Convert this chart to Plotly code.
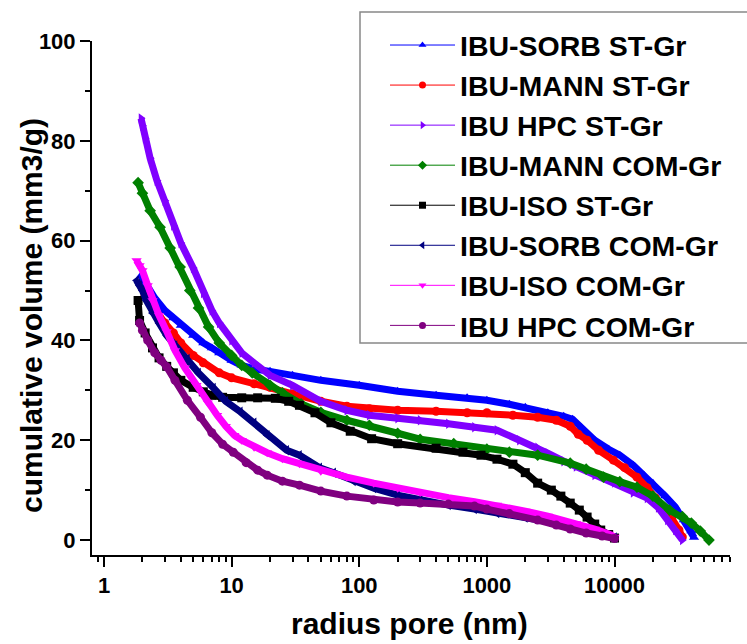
import plotly.graph_objects as go

# ---------------- data ----------------
names = ["IBU-SORB ST-Gr", "IBU-MANN ST-Gr", "IBU HPC ST-Gr", "IBU-MANN COM-Gr",
         "IBU-ISO ST-Gr", "IBU-SORB COM-Gr", "IBU-ISO COM-Gr", "IBU HPC COM-Gr"]
colors = ["#0000FF", "#FF0000", "#8000FF", "#008000",
          "#000000", "#000080", "#FF00FF", "#800080"]
symbols = ["triangle-up", "circle", "triangle-right", "diamond",
           "square", "triangle-left", "triangle-down", "circle"]

sorb_st_r = [1.95, 2.2, 2.5, 3, 3.5, 4, 5, 6, 7, 8, 10, 12, 15, 20, 30, 50, 100, 200, 400, 700,
             1000, 1500, 2000, 3000, 4000, 4700, 5500, 7000, 9000, 11000, 14000, 17000, 20000,
             25000, 30000, 35000, 40000, 42000]
sorb_st_v = [53, 50.5, 48.5, 46, 44.5, 43, 41, 39.5, 38.5, 37.5, 36, 35, 34.3, 33.8, 33, 32, 31,
             29.8, 29, 28.5, 28, 27.2, 26.6, 25.5, 24.8, 24.2, 22.5, 20, 18.2, 17, 15, 13, 11.4,
             8.8, 6.6, 4, 1.8, 0.5]

mann_st_r = [2.1, 2.5, 3, 3.5, 4, 5, 6, 8, 10, 15, 20, 30, 50, 80, 120, 200, 400, 700, 1000,
             1600, 2500, 3500, 4500, 5200, 6100, 7500, 9800, 12000, 15000, 18000, 21000, 25000,
             28000, 32000, 34000]
mann_st_v = [49, 46, 43.5, 41.5, 39.5, 37, 35.5, 33.5, 32.5, 31.3, 30.6, 29.3, 27.8, 26.8, 26.3,
             26, 25.8, 25.5, 25.5, 25, 24.6, 24, 22.8, 21.2, 20, 18, 16, 14.5, 12.6, 10.5, 8.4,
             6, 4.4, 2, 0.6]

hpc_st_r = [1.95, 2.0, 2.1, 2.3, 2.6, 3, 3.5, 4, 5, 6, 7, 8, 10, 12, 15, 20, 30, 50, 80, 120,
            200, 300, 500, 800, 1200, 1800, 2500, 3000, 4000, 5000, 7000, 10000, 14000, 18000,
            22000, 26000, 30000, 34000]
hpc_st_v = [84.5, 83, 80.5, 76.5, 72, 68, 63, 59.5, 54.5, 49.5, 46, 43.5, 40, 37.5, 35.5, 33,
            31, 27.8, 26, 25, 24.4, 24, 23.3, 22.6, 22, 20, 18.5, 17.4, 15.8, 14.7, 13, 11.5,
            9.5, 8.4, 6.5, 4, 2, 0]

mann_com_r = [1.85, 2.0, 2.3, 2.75, 3.3, 3.95, 4.7, 5.5, 6.6, 8, 10, 12, 14.5, 20, 25, 35, 50,
              80, 120, 200, 300, 550, 1000, 1500, 2500, 4500, 6000, 8200, 11000, 15000, 20000,
              27000, 34000, 40000, 47000, 55000]
mann_com_v = [71.6, 69.5, 66, 62.7, 58.5, 54.7, 50, 46.5, 42.7, 39.5, 37, 35, 33.5, 31, 29.5,
              27.3, 25.6, 24, 23, 21.4, 20.2, 19.3, 18.2, 17.6, 17, 15.4, 14.2, 12.6, 11.7, 10.6,
              8.8, 6, 4.7, 3.4, 1.8, 0]

iso_st_r = [1.85, 1.9, 2.1, 2.4, 2.7, 3.1, 3.5, 4, 5, 6, 7, 8.5, 12, 16, 22, 28, 34, 45, 60, 85,
            125, 200, 400, 650, 900, 1200, 1600, 2000, 2500, 3200, 3800, 4500, 5300, 6100, 7000,
            7800, 9000, 10000]
iso_st_v = [48, 44, 41.5, 38.5, 36.5, 34.8, 33.5, 32, 30.6, 29.7, 29, 28.6, 28.5, 28.5, 28.4,
            27.8, 27, 25.5, 23.5, 21.8, 20.3, 19.3, 18.4, 17.6, 17, 16.2, 15.2, 13.5, 11.4, 10,
            8.8, 7.4, 6, 4.6, 3.2, 2, 1.1, 0.4]

sorb_com_r = [1.8, 1.9, 2.0, 2.15, 2.4, 2.7, 3.1, 3.6, 4.5, 5.5, 7.2, 9, 11.7, 15, 19, 27, 34,
              49, 63, 90, 130, 200, 300, 500, 800, 1200, 2000, 3000, 5000, 7000, 9000, 10000]
sorb_com_v = [52, 51, 50, 48, 45.5, 43.5, 41, 39, 36.3, 33.5, 30.5, 27.8, 25.7, 23.5, 21, 18,
              17, 14.5, 13.5, 11.8, 10.4, 9, 8, 7, 6.2, 5.4, 4.5, 3.7, 2.3, 1.4, 0.8, 0.5]

iso_com_r = [1.8, 1.9, 2.0, 2.2, 2.4, 2.7, 3.1, 3.6, 4.3, 5.3, 6.5, 7.7, 9, 10.5, 12, 15, 19, 25,
             34, 50, 80, 130, 200, 300, 500, 800, 1200, 2000, 3000, 5000, 7000, 9000, 10000]
iso_com_v = [56, 55, 54, 51, 48, 45, 41.8, 38, 34.5, 31, 27.5, 25, 22.8, 21, 20, 18.6, 17.5,
             16.3, 15.3, 13.8, 12.6, 11.4, 10.4, 9.5, 8.5, 7.7, 7, 5.8, 4.8, 3.3, 2.2, 1.2, 0.6]

hpc_com_r = [1.9, 2.0, 2.2, 2.5, 2.8, 3.1, 3.6, 4.5, 5.7, 7, 8.5, 10.3, 13, 16, 19, 25, 34, 50,
             80, 130, 200, 300, 500, 800, 1000, 1500, 2500, 3500, 4500, 6000, 8000, 10000]
hpc_com_v = [43.5, 42, 40, 37.5, 36, 34.7, 32, 28, 24.6, 21.5, 19.2, 17.6, 15.5, 14, 13, 11.8,
             11, 9.8, 8.8, 8, 7.6, 7.4, 7.2, 6.8, 6.2, 5.3, 4, 3, 2.2, 1.4, 0.8, 0.3]

xs = [sorb_st_r, mann_st_r, hpc_st_r, mann_com_r, iso_st_r, sorb_com_r, iso_com_r, hpc_com_r]
ys = [sorb_st_v, mann_st_v, hpc_st_v, mann_com_v, iso_st_v, sorb_com_v, iso_com_v, hpc_com_v]

x_tickvals = [1, 10, 100, 1000, 10000]
x_ticktext = ["1", "10", "100", "1000", "10000"]
y_tickvals = [0, 20, 40, 60, 80, 100]

FONT = "Liberation Sans, Arial, sans-serif"

fig = go.Figure()

# data curves (dense marker bands)
for n, c, s, x, y in zip(names, colors, symbols, xs, ys):
    fig.add_trace(go.Scatter(
        x=x, y=y, mode="lines+markers", name=n, showlegend=False,
        line=dict(color=c, width=7),
        marker=dict(symbol=s, size=9, color=c, line=dict(width=0)),
    ))

# legend entries (thin line with small marker)
for n, c, s in zip(names, colors, symbols):
    fig.add_trace(go.Scatter(
        x=[None], y=[None], mode="lines+markers", name=n,
        line=dict(color=c, width=1),
        marker=dict(symbol=s, size=7, color=c, line=dict(width=0)),
    ))

W, H = 747, 644
L, R, T, B = 92, 17, 41, 89
pw, ph = W - L - R, H - T - B

def px2paper_x(px):
    return (px - L) / pw

def px2paper_y(py):
    return (H - B - py) / ph

fig.update_layout(
    width=W, height=H,
    margin=dict(l=L, r=R, t=T, b=B, pad=0),
    paper_bgcolor="white", plot_bgcolor="white",
    font=dict(family=FONT, color="black"),
    showlegend=True,
    legend=dict(
        x=px2paper_x(385), y=px2paper_y(351), xanchor="left", yanchor="bottom",
        bgcolor="rgba(0,0,0,0)", borderwidth=0,
        font=dict(family=FONT, size=28.5, color="black", weight="bold"),
        itemwidth=65, tracegroupgap=0,
    ),
    xaxis=dict(
        type="log", range=[-0.094, 4.905],
        tickvals=x_tickvals, ticktext=x_ticktext,
        ticks="outside", ticklen=10, tickwidth=2, tickcolor="black",
        showline=True, linecolor="black", linewidth=2,
        showgrid=False, zeroline=False,
        tickfont=dict(family=FONT, size=22, color="black", weight="bold"),
        minor=dict(ticks="outside", ticklen=5, tickwidth=1.5, tickcolor="black",
                   dtick="D1", showgrid=False),
    ),
    yaxis=dict(
        range=[-3, 100],
        tickvals=y_tickvals,
        ticks="outside", ticklen=10, tickwidth=2, tickcolor="black",
        showline=True, linecolor="black", linewidth=2,
        showgrid=False, zeroline=False,
        tickfont=dict(family=FONT, size=22, color="black", weight="bold"),
        minor=dict(ticks="outside", ticklen=5, tickwidth=1.5, tickcolor="black",
                   dtick=10, showgrid=False),
    ),
    shapes=[dict(
        type="rect", xref="paper", yref="paper",
        x0=px2paper_x(360), x1=px2paper_x(752), y0=px2paper_y(343), y1=px2paper_y(12),
        line=dict(color="#888888", width=1.5), fillcolor="rgba(0,0,0,0)", layer="above",
    )],
    annotations=[
        dict(text="radius pore (nm)", xref="paper", yref="paper",
             x=px2paper_x(409), y=px2paper_y(623), xanchor="center", yanchor="middle",
             showarrow=False,
             font=dict(family=FONT, size=30, color="black", weight="bold")),
        dict(text="cumulative volume (mm3/g)", xref="paper", yref="paper",
             x=px2paper_x(31), y=px2paper_y(316), xanchor="center", yanchor="middle",
             textangle=-90, showarrow=False,
             font=dict(family=FONT, size=30, color="black", weight="bold")),
    ],
)

fig.write_html("out.html")
